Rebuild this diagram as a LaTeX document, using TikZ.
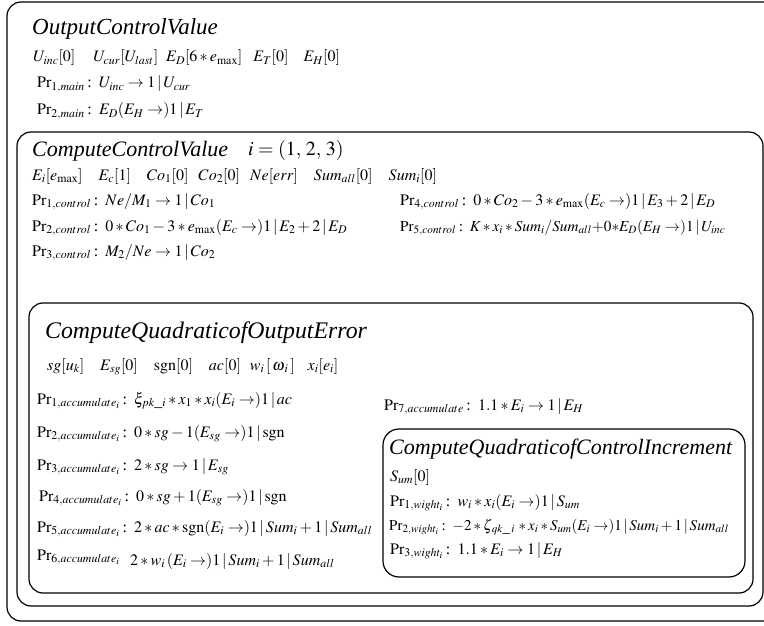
\documentclass[tikz,border=0pt]{standalone}
\usepackage{mathptmx}
\usepackage{fontspec}
\setmainfont{Liberation Serif}
\newcommand{\prl}[1]{$\mathrm{Pr}_{#1}$\,:\;\,}
\newcommand{\gap}{\hspace{16pt}}

\begin{document}
\begin{tikzpicture}[x=1pt,y=-1pt,
  box/.style={draw,line width=1.2pt,rounded corners=14pt},
  title/.style={anchor=base west,inner sep=0pt,font=\fontsize{22}{24}\selectfont\itshape},
  row/.style={anchor=base west,inner sep=0pt,font=\fontsize{16}{18}\selectfont}]
\clip (0,0) rectangle (764,626);
\draw[box] (7,2) rectangle (778,621);
\draw[box] (17,132) rectangle (763,606);
\draw[box] (29,303) rectangle (753,593);
\draw[box,rounded corners=16pt] (383,429) rectangle (745,577);

\node[title,font=\fontsize{23}{25}\selectfont\itshape] (main) at (32,35) {OutputControlValue};
\node[row] (mainvar) at (33,62) {$U_{inc}[0]\hspace{18pt}U_{cur}[U_{last}]\hspace{8pt}E_D[6*e_{\max}]\hspace{11pt}E_T[0]\hspace{15pt}E_H[0]$};
\node[row] (main1) at (37,88) {\prl{1,main}$U_{inc}\rightarrow 1\,|\,U_{cur}$};
\node[row] (main2) at (37,115) {\prl{2,main}$E_D(E_H\rightarrow)1\,|\,E_T$};

\node[title] (ctrl) at (32,157) {ComputeControlValue};
\node[row,font=\fontsize{20}{22}\selectfont] (ctrli) at (248,155) {$i=(1,\,2,\,3)$};
\node[row] (ctrlvar) at (32,180) {$E_i[e_{\max}]\gap E_c[1]\gap Co_1[0]\hspace{10pt}Co_2[0]\hspace{10pt}Ne[err]\gap Sum_{all}[0]\gap Sum_i[0]$};
\node[row] (ctrl1) at (32,205) {\prl{1,control}$Ne/M_1\rightarrow 1\,|\,Co_1$};
\node[row] (ctrl2) at (32,231) {\prl{2,control}$0*Co_1-3*e_{\max}(E_c\rightarrow)1\,|\,E_2+2\,|\,E_D$};
\node[row] (ctrl3) at (32,256) {\prl{3,control}$M_2/Ne\rightarrow 1\,|\,Co_2$};
\node[row] (ctrl4) at (400,205) {\prl{4,control}$0*Co_2-3*e_{\max}(E_c\rightarrow)1\,|\,E_3+2\,|\,E_D$};
\node[row,font=\fontsize{15.2}{17}\selectfont] (ctrl5) at (400,231) {\prl{5,control}$K*x_i*Sum_i/Sum_{all}{+}0{*}E_D(E_H\rightarrow)1\,|\,U_{inc}$};

\node[title,font=\fontsize{23.8}{26}\selectfont\itshape] (err) at (45,338) {ComputeQuadraticofOutputError};
\node[row] (errvar) at (47,370) {$sg[u_k]\hspace{16pt}E_{sg}[0]\hspace{16pt}\mathrm{sgn}[0]\hspace{16pt}ac[0]\hspace{9pt}w_i\,[\,\omega_{\,i}\,]\hspace{13pt}x_i[e_i]$};
\node[row] (acc1) at (37,404) {\prl{1,accumulate_i}$\xi_{pk\_i}*x_1*x_i(E_i\rightarrow)1\,|\,ac$};
\node[row] (acc2) at (37,437) {\prl{2,accumulate_i}$0*sg-1(E_{sg}\rightarrow)1\,|\,\mathrm{sgn}$};
\node[row] (acc3) at (37,470) {\prl{3,accumulate_i}$2*sg\rightarrow 1\,|\,E_{sg}$};
\node[row] (acc4) at (39,501) {\prl{4,accumulate_i}$0*sg+1(E_{sg}\rightarrow)1\,|\,\mathrm{sgn}$};
\node[row] (acc5) at (37,532) {\prl{5,accumulate_i}$2*ac*\mathrm{sgn}(E_i\rightarrow)1\,|\,Sum_i+1\,|\,Sum_{all}$};
\node[row] (acc6) at (37,560) {$\mathrm{Pr}_{6,accumulate_i}$};
\node[row] (acc6e) at (130,565) {$2*w_i\,(E_i\rightarrow)1\,|\,Sum_i+1\,|\,Sum_{all}$};
\node[row] (acc7) at (384,410) {\prl{7,accumulate}$1.1*E_i\rightarrow 1\,|\,E_H$};

\node[title] (inc) at (389,454) {ComputeQuadraticofControlIncrement};
\node[row] (incvar) at (390,481) {$S_{um}[0]$};
\node[row] (w1) at (390,506) {\prl{1,wight_i}$w_i*x_i(E_i\rightarrow)1\,|\,S_{um}$};
\node[row,font=\fontsize{15}{17}\selectfont] (w2) at (389,530) {\prl{2,wight_i}$-2*\zeta_{\,qk\_\,i}\,*x_i*S_{um}(E_i\rightarrow)1\,|\,Sum_i+1\,|\,Sum_{all}$};
\node[row] (w3) at (390,554) {\prl{3,wight_i}$1.1*E_i\rightarrow 1\,|\,E_H$};
\end{tikzpicture}
\end{document}
